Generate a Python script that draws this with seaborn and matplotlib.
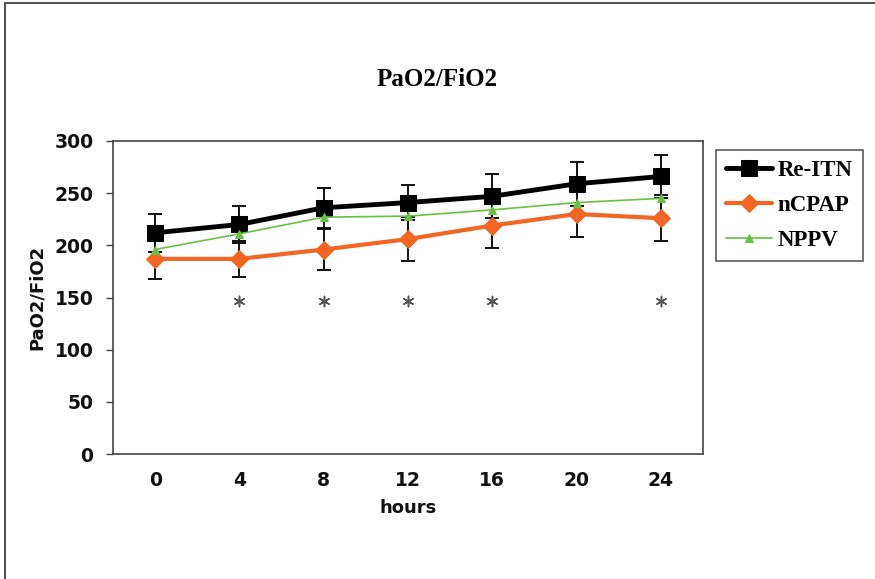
import matplotlib
matplotlib.use("Agg")
import matplotlib.pyplot as plt
from matplotlib.lines import Line2D
import seaborn as sns
import pandas as pd

hours = [0, 4, 8, 12, 16, 20, 24]
re_itn = [212, 220, 236, 241, 247, 259, 266]
re_itn_err = [18, 18, 19, 17, 21, 21, 21]
ncpap = [187, 187, 196, 206, 219, 230, 226]
ncpap_err = [19, 17, 20, 21, 22, 22, 22]
nppv = [196, 211, 227, 228, 234, 241, 245]
sig_hours = [4, 8, 12, 16, 24]
sig_level = 147

series_names = ["Re-ITN", "nCPAP", "NPPV"]
colors = {"Re-ITN": "#000000", "nCPAP": "#F26522", "NPPV": "#6CBE45"}

rows = []
for name, vals in zip(series_names, [re_itn, ncpap, nppv]):
    for h, v in zip(hours, vals):
        rows.append({"hours": h, "value": v, "group": name})
df = pd.DataFrame(rows)

sns.set_style("white")
plt.rcParams['font.family'] = ['DejaVu Sans']
plt.rcParams['text.color'] = '#000000'
plt.rcParams['axes.labelcolor'] = '#111111'

fig = plt.figure(figsize=(8.75, 5.79), dpi=100)
ax = fig.add_axes([113/875, 1-454/579, 590/875, 313/579])

# error bars
ax.errorbar(hours, re_itn, yerr=re_itn_err, fmt='none', ecolor='#111111',
            elinewidth=1.4, capsize=5, capthick=1.4, zorder=2)
ax.errorbar(hours, ncpap, yerr=ncpap_err, fmt='none', ecolor='#111111',
            elinewidth=1.4, capsize=5, capthick=1.4, zorder=2)

styles = {
    "Re-ITN": dict(lw=3.5, marker='s', ms=12),
    "nCPAP": dict(lw=3.0, marker='D', ms=9),
    "NPPV": dict(lw=1.2, marker='^', ms=6),
}
for name in series_names:
    sub = df[df["group"] == name]
    st = styles[name]
    sns.lineplot(data=sub, x="hours", y="value", ax=ax, color=colors[name],
                 linewidth=st["lw"], marker=st["marker"], markersize=st["ms"],
                 markeredgecolor=colors[name], label=name, zorder=3)

# significance asterisks
ax.scatter(sig_hours, [sig_level]*len(sig_hours), marker=(6, 2, 0), s=55,
           color='#555555', linewidths=1.1, zorder=3)

ax.set_xlim(-2, 26)
ax.set_ylim(0, 300)
ax.set_xticks(hours)
ax.set_xticklabels([str(h) for h in hours])
ax.set_yticks([0, 50, 100, 150, 200, 250, 300])
for lab in ax.get_xticklabels() + ax.get_yticklabels():
    lab.set_fontweight('bold')
    lab.set_fontsize(13.5)
    lab.set_color('#111111')
ax.tick_params(axis='x', length=0, pad=12)
ax.tick_params(axis='y', length=5, width=1, color='#444444', pad=9, direction='out', left=True)
for sp in ax.spines.values():
    sp.set_color('#444444')
    sp.set_linewidth(1.2)
ax.set_xlabel("hours", fontsize=13, fontweight='bold', labelpad=7, color='#111111')
ax.set_ylabel("PaO2/FiO2", fontsize=13, fontweight='bold', labelpad=6, color='#111111')

fig.text(437/875, 1-80/579, "PaO2/FiO2", ha='center', va='center', color='#000000',
         fontsize=18, fontweight='bold', family=['Liberation Serif'])

leg = ax.legend(loc='upper left', bbox_to_anchor=(1.022, 0.971), borderaxespad=0,
                frameon=True, fancybox=False, edgecolor='#333333',
                prop={'family': 'Liberation Serif', 'weight': 'bold', 'size': 16.5},
                handlelength=2.0, labelspacing=0.6, handletextpad=0.25, borderpad=0.45)
leg.get_frame().set_linewidth(1.2)
for t in leg.get_texts():
    t.set_color('#000000')

# outer frame (top and left)
fig.add_artist(Line2D([5/875, 1], [1-3/579, 1-3/579], color='#555555', lw=1.5, transform=fig.transFigure))
fig.add_artist(Line2D([5/875, 5/875], [0, 1-3/579], color='#555555', lw=1.5, transform=fig.transFigure))

fig.savefig("out.png", dpi=100)
